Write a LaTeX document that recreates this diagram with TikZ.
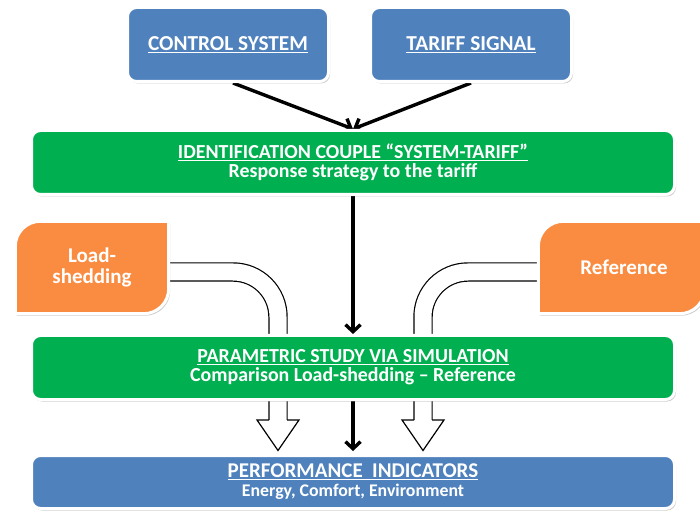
\documentclass[tikz,border=0pt]{standalone}
\usepackage{fontspec}
\setmainfont{Carlito}
\usetikzlibrary{arrows.meta,shadows}
\pgfdeclarelayer{nodelayer}
\pgfdeclarelayer{shapelayer}
\pgfdeclarelayer{edgelayer}
\pgfsetlayers{edgelayer,shapelayer,nodelayer,main}
\definecolor{boxblue}{HTML}{4F81BD}
\definecolor{boxgreen}{HTML}{00B050}
\definecolor{boxorange}{HTML}{FA8C41}
\tikzstyle{box shadow}=[drop shadow={shadow xshift=1.5pt, shadow yshift=-2pt, opacity=0.4}]
\tikzstyle{blue box}=[fill=boxblue, draw=white, line width=3pt, rounded corners=9pt, box shadow, text=white, align=center, inner sep=0pt]
\tikzstyle{green box}=[blue box, fill=boxgreen, font=\fontsize{19.9}{19}\selectfont\bfseries]
\tikzstyle{orange box}=[fill=boxorange, draw=white, line width=3pt, box shadow]
\tikzstyle{orange label}=[draw=none, text=white, align=center, inner sep=0pt, font=\fontsize{21}{21}\selectfont\bfseries]
\tikzstyle{black arrow}=[draw=black, line width=3.4pt, -{Straight Barb[length=7pt,width=15pt]}]
\tikzstyle{hollow shaft}=[draw=black, line width=1.2pt, double=white, double distance=17pt, rounded corners=45pt]
\tikzstyle{hollow head}=[fill=white, draw=black, line width=1.2pt, line join=miter]

\begin{document}
\begin{tikzpicture}[x=1pt, y=1pt]
	\useasboundingbox (0, 0) rectangle (700, 511);
	\begin{pgfonlayer}{nodelayer}
		\node [style=blue box, minimum width=201pt, minimum height=74pt, font=\fontsize{21.3}{21}\selectfont\bfseries] (control) at (228, 466.5) {\underline{CONTROL SYSTEM}};
		\node [style=blue box, minimum width=201pt, minimum height=74pt, font=\fontsize{21.3}{21}\selectfont\bfseries] (tariff) at (471, 466.5) {\underline{TARIFF SIGNAL}};
		\node [style=green box, minimum width=643pt, minimum height=64pt] (ident) at (353, 348.5) {\underline{IDENTIFICATION COUPLE “SYSTEM-TARIFF”}\\Response strategy to the tariff};
		\node [style=orange label, minimum width=153pt, minimum height=92pt] (lshed) at (92, 243.5) {Load-\\shedding};
		\node [style=orange label, minimum width=166pt, minimum height=92pt, text width=150pt] (rshed) at (621.5, 243.5) {\hspace*{5pt}Reference};
		\node [style=green box, minimum width=643pt, minimum height=64pt] (param) at (353, 143.5) {\underline{PARAMETRIC STUDY VIA SIMULATION}\\Comparison Load-shedding – Reference};
		\node [style=blue box, minimum width=643pt, minimum height=53pt, font=\fontsize{21}{19}\selectfont\bfseries] (perf) at (353, 29) {\underline{PERFORMANCE\ \ INDICATORS}\\{\fontsize{17.8}{19}\selectfont Energy, Comfort, Environment}};
	\end{pgfonlayer}
	\begin{pgfonlayer}{shapelayer}
		\draw [style=orange box] (lshed.south west) -- ([yshift=-25pt]lshed.north west) arc [start angle=180, end angle=90, radius=25pt] -- (lshed.north east) -- ([yshift=25pt]lshed.south east) arc [start angle=0, end angle=-90, radius=25pt] -- cycle;
		\draw [style=orange box] (rshed.south west) -- ([yshift=-25pt]rshed.north west) arc [start angle=180, end angle=90, radius=25pt] -- (rshed.north east) -- ([yshift=25pt]rshed.south east) arc [start angle=0, end angle=-90, radius=25pt] -- cycle;
	\end{pgfonlayer}
	\begin{pgfonlayer}{edgelayer}
		\coordinate (lhead) at (278, 91);
		\coordinate (rhead) at (423, 91);
		\draw [style=black arrow] ([xshift=5pt]control.south) to (ident.north);
		\draw [style=black arrow] (tariff.south) to (ident.north);
		\draw [style=black arrow] (ident.south) to (param.north);
		\draw [style=black arrow] (param.south) to ([yshift=3pt]perf.north);
		% hollow arrows pass behind the simulation box
		\draw [style=hollow shaft] ([yshift=-4.5pt]lshed.east) -| (lhead);
		\draw [style=hollow shaft] ([yshift=-4.5pt]rshed.west) -| (rhead);
		\draw [style=hollow head] ([xshift=-9pt]lhead) -- ++(-12, 0) -- ([yshift=3.5pt]lhead |- perf.north) -- ([xshift=21pt]lhead) -- ++(-12, 0);
		\draw [style=hollow head] ([xshift=-9pt]rhead) -- ++(-12, 0) -- ([yshift=3.5pt]rhead |- perf.north) -- ([xshift=21pt]rhead) -- ++(-12, 0);
	\end{pgfonlayer}
\end{tikzpicture}
\end{document}
